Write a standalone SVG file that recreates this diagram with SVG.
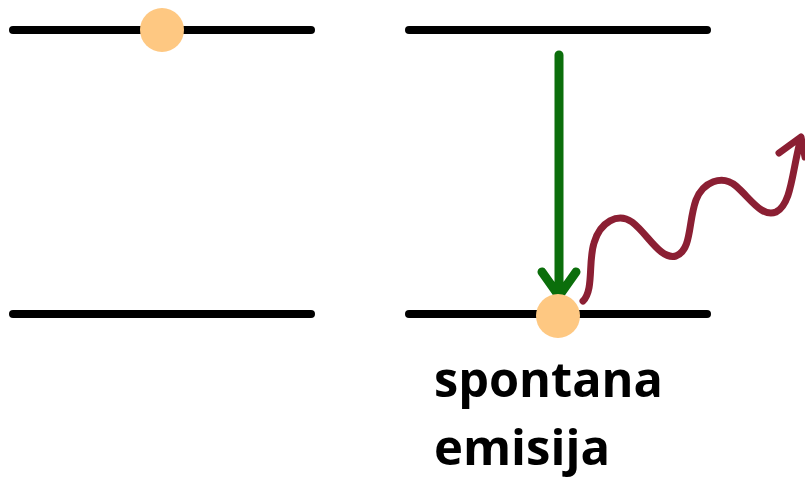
<svg xmlns="http://www.w3.org/2000/svg" width="805" height="487" viewBox="0 0 805 487">
<style>
.lvl{stroke:#000;stroke-width:8;stroke-linecap:round;fill:none}
.el{fill:#fec882}
.lbl{font-family:"Open Sans","Noto Sans",sans-serif;font-weight:bold;font-size:48px;fill:#000}
</style>
<rect width="805" height="487" fill="#fff"/>
<g id="left-upper"><line class="lvl" x1="13" y1="30" x2="311" y2="30"/></g>
<g id="left-lower"><line class="lvl" x1="13" y1="314" x2="311" y2="314"/></g>
<g id="right-upper"><line class="lvl" x1="409" y1="30" x2="707" y2="30"/></g>
<g id="right-lower"><line class="lvl" x1="409" y1="314" x2="707" y2="314"/></g>
<g id="electron-top"><circle class="el" cx="162" cy="30" r="22"/></g>
<g id="connectors">
<path d="M559 55 V297 M542 272 L559 296 L576 272" stroke="#0b6e0b" stroke-width="9" stroke-linecap="round" stroke-linejoin="round" fill="none"/>
<path d="M583 301 C594 290 588 262 594 243 C600 222 618 212 632 222 C648 234 660 260 676 256 C692 250 688 222 696 200 C703 182 722 174 736 186 C750 198 762 218 776 212 C792 204 792 170 801 138 M779 153 L801 137 L805 157" stroke="#8b1f33" stroke-width="7" stroke-linecap="round" stroke-linejoin="round" fill="none"/>
</g>
<g id="electron-bottom"><circle class="el" cx="558" cy="316" r="22"/></g>
<g id="label">
<text class="lbl" x="434" y="397" textLength="229" lengthAdjust="spacingAndGlyphs">spontana</text>
<text class="lbl" x="434" y="465" textLength="176" lengthAdjust="spacingAndGlyphs">emisija</text>
</g>
</svg>
